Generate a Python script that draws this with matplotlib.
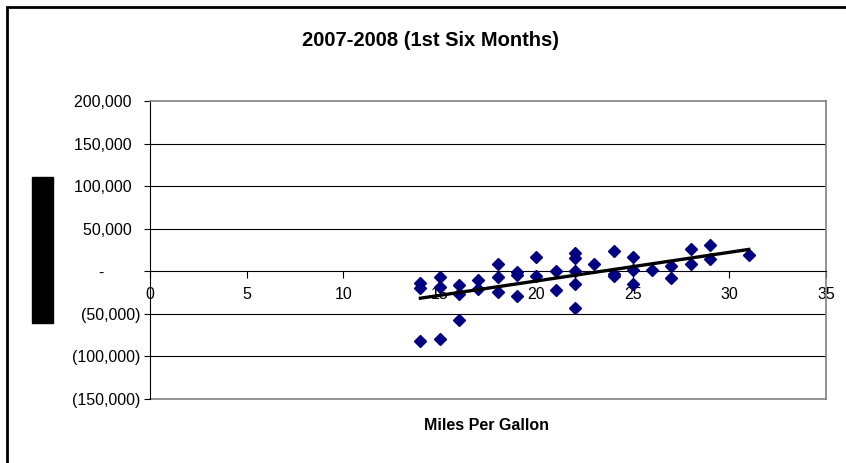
import matplotlib
matplotlib.use("Agg")
import matplotlib.pyplot as plt
import numpy as np
from matplotlib.patches import Rectangle

plt.rcParams['font.family'] = ['Liberation Sans', 'DejaVu Sans']

# miles per gallon vs. value for each vehicle
mpg = [14, 14, 14, 15, 15, 15, 16, 16, 16, 17, 17, 18, 18, 18,
       19, 19, 19, 20, 20, 21, 21, 22, 22, 22, 22, 22, 23,
       24, 24, 24, 25, 25, 25, 26, 27, 27, 28, 28, 29, 29, 31]
values = [-13700, -19100, -82000, -6700, -18400, -79000, -16400, -26200, -56700,
          -9700, -20300, 9000, -6700, -24300, -1000, -4700, -29000, 16800, -5900,
          0, -21500, 21500, 16100, 0, -14400, -42600, 9000, 23800, -2700, -5900,
          16800, 1200, -15300, 1200, 5900, -7900, 26600, 9000, 30500, 14900, 18800]

x_ticks = [0, 5, 10, 15, 20, 25, 30, 35]
y_ticks = [-150000, -100000, -50000, 0, 50000, 100000, 150000, 200000]


def acct(v, pos=None):
    if v == 0:
        return "-        "
    if v < 0:
        return "({:,.0f})".format(-v)
    return "{:,.0f}  ".format(v)


fig = plt.figure(figsize=(8.46, 4.63), dpi=100)
ax = fig.add_axes([150 / 846, 1 - 399 / 463, 676 / 846, 298 / 463])

x = np.array(mpg, dtype=float)
y = np.array(values, dtype=float)
ax.plot(x, y, linestyle='none', marker='D', ms=6.4, color='#000080', zorder=3)

# linear trend line
k, b = np.polyfit(x, y, 1)
xs = np.array([x.min(), x.max()])
ax.plot(xs, k * xs + b, color='black', lw=2.4, zorder=4)

ax.set_xlim(0, 35)
ax.set_ylim(-150000, 200000)
ax.set_xticks(x_ticks)
ax.set_yticks(y_ticks)
ax.yaxis.set_major_formatter(plt.FuncFormatter(acct))

for v in y_ticks[1:-1]:
    if v != 0:
        ax.axhline(v, color='black', lw=0.8, zorder=1)

ax.spines['bottom'].set_position(('data', 0))
ax.spines['bottom'].set_color('black')
ax.spines['left'].set_color('black')
for s in ['top', 'right']:
    ax.spines[s].set_color('#808080')
    ax.spines[s].set_linewidth(1.2)
ax.plot([0, 35], [-150000, -150000], color='#808080', lw=1.2, clip_on=False, zorder=1)

ax.tick_params(axis='x', direction='out', length=5, pad=6, labelsize=11.5)
ax.tick_params(axis='y', direction='out', length=4, pad=3, labelsize=11.5)

fig.text(430 / 846, 1 - 40 / 463, "2007-2008 (1st Six Months)", ha='center', va='center',
         fontsize=14.5, fontweight='bold')
fig.text(486 / 846, 1 - 426 / 463, "Miles Per Gallon", ha='center', va='center',
         fontsize=11.5, fontweight='bold')

# axis title block
fig.patches.append(Rectangle((32 / 846, 1 - 323 / 463), 21 / 846, 146 / 463,
                             transform=fig.transFigure, color='black'))
# chart border
fig.patches.append(Rectangle((7 / 846, -0.1), 1.2, 1.1 - 7 / 463, transform=fig.transFigure,
                             fill=False, edgecolor='black', lw=2))

fig.savefig("out.png", dpi=100)
